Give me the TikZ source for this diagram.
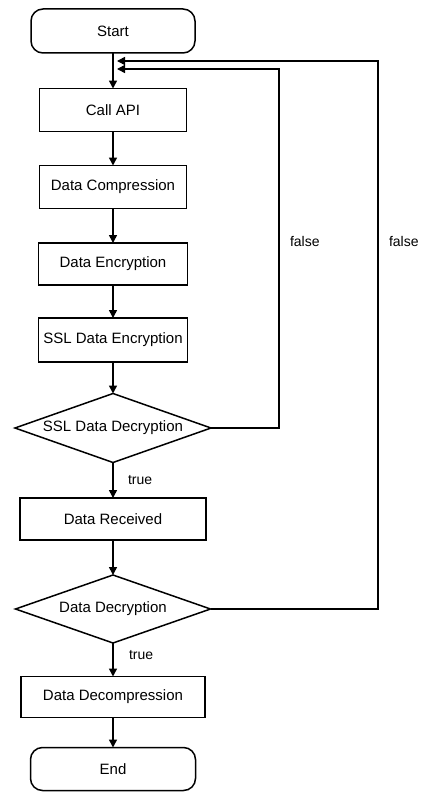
\documentclass[tikz,border=0pt]{standalone}
\usepackage{fontspec}
\setmainfont{Liberation Sans}
\usetikzlibrary{shapes.geometric,arrows.meta}

\begin{document}
\begin{tikzpicture}[x=1pt,y=-1pt,
  every node/.style={font=\fontsize{15}{17}\selectfont, inner sep=0pt, outer sep=0pt},
  terminal/.style={draw, line width=1.5pt, rounded corners=12pt, minimum width=164pt, minimum height=44pt},
  process/.style={draw, line width=1.5pt, minimum height=43pt},
  decision/.style={draw, line width=1.5pt, diamond, aspect=2.8, minimum width=196pt, minimum height=69pt},
  flow/.style={line width=1.5pt, -{Triangle[length=8pt,width=8pt]}},
  tag/.style={font=\fontsize{14}{16}\selectfont}]
\useasboundingbox (0,0) rectangle (423,792);

% main column
\node[terminal] (start) at (113,31) {Start};
\node[process, minimum width=147pt] (call) at (113,110) {Call API};
\node[process, minimum width=147pt] (compress) at (113,187) {Data Compression};
\node[process, minimum width=149pt, minimum height=42pt] (encrypt) at (113,264) {Data Encryption};
\node[process, minimum width=149pt, minimum height=44pt] (sslenc) at (113,340) {SSL Data Encryption};
\node[decision] (ssldec) at (113,428) {SSL Data Decryption};
\node[process, minimum width=186pt, minimum height=42pt] (received) at (113,519) {Data Received};
\node[decision, minimum height=68pt, minimum width=195pt] (decrypt) at (113,609) {Data Decryption};
\node[process, minimum width=184pt, minimum height=41pt] (decomp) at (113,697) {Data Decompression};
\node[terminal, minimum width=165pt, minimum height=43pt] (end) at (113,769) {End};

% loop return points
\coordinate (innerTop) at (279,69);
\coordinate (innerIn) at (117,69);
\coordinate (outerTop) at (378,61);
\coordinate (outerIn) at (117,61);

\draw[flow] (start) -- (call);
\draw[flow] (call) -- (compress);
\draw[flow] (compress) -- (encrypt);
\draw[flow] (encrypt) -- (sslenc);
\draw[flow] (sslenc) -- (ssldec);
\draw[flow] (ssldec) -- node[tag, right, xshift=15pt]{true} (received);
\draw[flow] (received) -- (decrypt);
\draw[flow] (decrypt) -- node[tag, pos=0.35, right, xshift=16pt]{true} (decomp);
\draw[flow] (decomp) -- (end);

% false branches back to the top
\draw[flow] (ssldec.east) -| node[tag, pos=0.76, right, xshift=11pt]{false} (innerTop) -- (innerIn);
\draw[flow] (decrypt.east) -| node[tag, pos=0.835, right, xshift=11pt]{false} (outerTop) -- (outerIn);
\end{tikzpicture}
\end{document}
